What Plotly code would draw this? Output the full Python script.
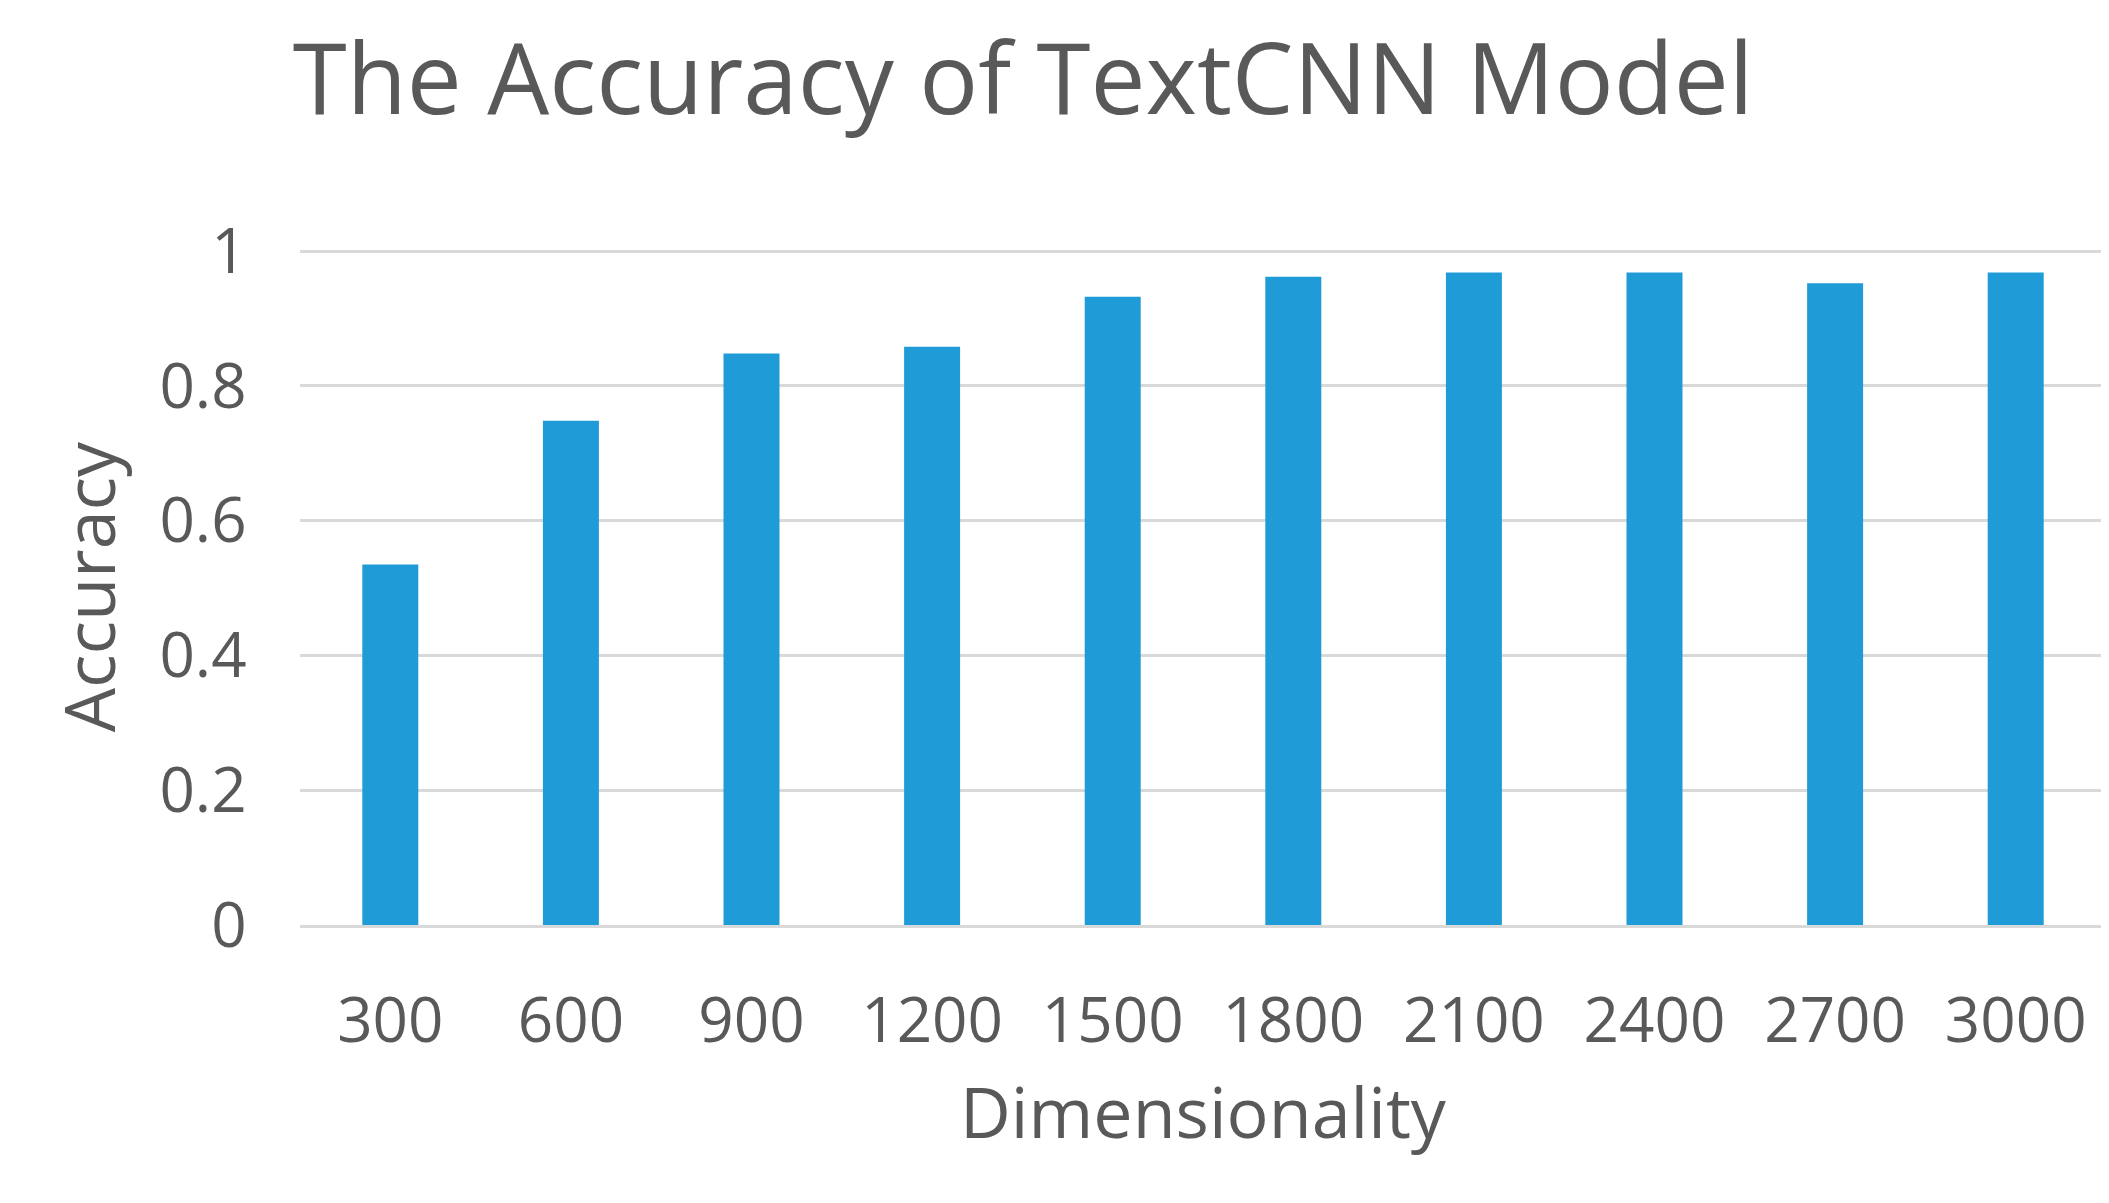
import plotly.graph_objects as go

dims = ["300","600","900","1200","1500","1800","2100","2400","2700","3000"]
accuracy = [0.535,0.748,0.848,0.858,0.932,0.962,0.968,0.968,0.952,0.968]

gray = "#595959"
fig = go.Figure(go.Bar(x=dims, y=accuracy, marker_color="#1f9bd7", marker_line_width=0))
fig.update_layout(
    width=2109, height=1203, plot_bgcolor="white", paper_bgcolor="white",
    margin=dict(l=292, r=11, t=241, b=286),
    bargap=0.69, showlegend=False,
    font=dict(family="Open Sans", color=gray, size=62),
    title=dict(text="The Accuracy of TextCNN Model", x=0.135, xanchor="left",
               y=0.94, yanchor="middle", font=dict(size=98, color=gray)),
)
fig.update_xaxes(type="category", showline=True, linecolor="#d9d9d9", linewidth=3,
                 ticks="outside", ticklen=40, tickcolor="rgba(0,0,0,0)",
                 title=dict(text="Dimensionality", standoff=30, font=dict(size=70)))
fig.update_yaxes(range=[0,1.003], tickvals=[0,0.2,0.4,0.6,0.8,1],
                 ticktext=["0","0.2","0.4","0.6","0.8","1"],
                 gridcolor="#d9d9d9", gridwidth=3, zeroline=False,
                 ticks="outside", ticklen=40, tickcolor="rgba(0,0,0,0)",
                 title=dict(text="Accuracy", standoff=20, font=dict(size=70)))
fig.write_html("out.html")
